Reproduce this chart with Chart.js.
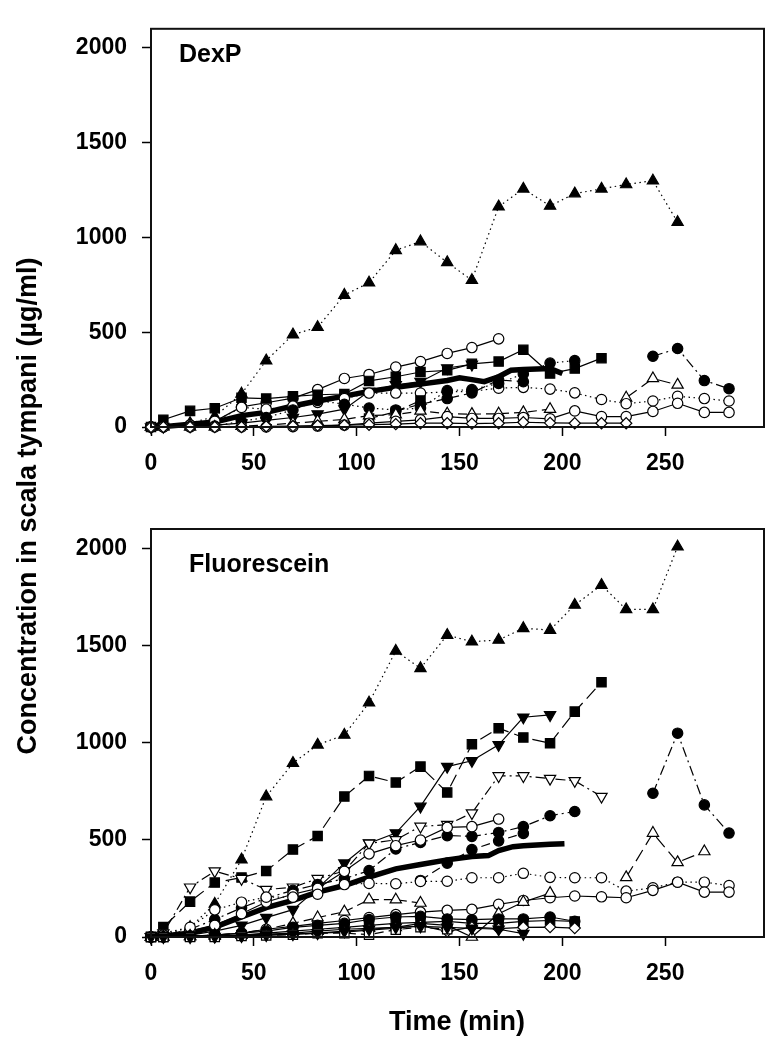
<!DOCTYPE html>
<html><head><meta charset="utf-8">
<script src="https://cdn.jsdelivr.net/npm/chart.js@4.4.0/dist/chart.umd.min.js"></script>
<style>
html,body{margin:0;padding:0;background:#fff;}
#wrap{position:relative;width:784px;height:1046px;background:#fff;}
canvas{position:absolute;left:0;top:0;}
</style></head><body>
<div id="wrap"><canvas id="c1" width="784" height="1046"></canvas><canvas id="c2" width="784" height="1046"></canvas></div>
<script>
// ---------- DATA ----------
const T = [0,6,19,31,44,56,69,81,94,106,119,131,144,156,169,181,194,206,219,231,244,256,269,281];
const xTicks = [0,50,100,150,200,250];
const yTicks = [0,500,1000,1500,2000];
const panelTitles = ['DexP','Fluorescein'];
const xTitle = 'Time (min)';
const yTitle = 'Concentration in scala tympani (µg/ml)';

// DexP panel
const dexTriUp        = [0,5,20,55,175,350,487,526,696,761,932,978,868,774,1162,1256,1166,1231,1256,1279,1299,1080];
const dexCircOpenSolid= [0,3,10,30,106,128,152,197,256,277,316,345,388,419,465];
const dexSqFilled     = [0,38,85,99,154,150,162,170,174,243,265,290,299,333,345,407,282,308,363];
const dexSqFilled2    = [null,null,null,null,null,null,null,null,null,45,80,140];
const dexTriDown      = [0,2,5,10,20,35,50,68,94,188,222,239,311,330];
const dexCircOpenDot  = [0,2,10,30,103,94,110,130,150,179,179,179,185,188,205,209,200,180,145,123,137,162,150,137];
const dexCircOpenLow  = [0,0,0,0,0,0,2,5,10,20,30,38,55,45,45,50,43,85,55,55,82,125,77,77];
const dexDiamond      = [0,0,0,0,0,3,5,8,10,12,15,20,20,18,20,25,22,20,20,20];
const dexTriOpen      = [0,0,0,0,5,10,20,30,40,60,65,85,70,68,70,77,94];
const dexCircFilledDot= [0,0,2,5,30,50,90,140,120,100,90,100,192,197,230,280,337,350];
const dexCircFilledDash=[null,null,null,null,null,null,null,null,null,null,85,120,150,180,248,239];
const dexLateCirc     = [null,null,null,null,null,null,null,null,null,null,null,null,null,null,null,null,null,null,null,null,373,414,245,202];
const dexLateTri      = [null,null,null,null,null,null,null,null,null,null,null,null,null,null,null,null,null,null,null,154,256,222];
const dexMeanT        = [0,6,19,31,44,56,69,81,94,106,119,131,144,150,156,162,169,175,181,194,200];
const dexMeanV        = [0,2,14,26,60,77,111,137,163,188,209,226,245,260,250,239,265,299,303,308,282];

// Fluorescein panel
const fluTriUp        = [0,20,50,170,398,723,895,989,1040,1206,1472,1383,1554,1520,1529,1589,1580,1709,1811,1686,1686,2009];
const fluSqFilled     = [0,51,182,280,306,340,450,520,723,829,795,877,744,992,1075,1027,997,1160,1311];
const fluTriDown      = [0,5,10,30,60,100,141,250,380,483,535,672,877,907,989,1131,1143];
const fluTriDownOpen  = [0,20,256,339,300,244,256,300,340,482,500,569,578,638,829,829,815,804,723];
const fluCircFilledA  = [0,5,40,90,150,200,240,270,300,342,453,487,522,518,538,568,624,646];
const fluCircFilledB  = [null,null,null,null,null,null,null,null,null,null,null,291,380,450,495,533];
const fluLateCirc     = [null,null,null,null,null,null,null,null,null,null,null,null,null,null,null,null,null,null,null,null,740,1049,680,535];
const fluLateTri      = [null,null,null,null,null,null,null,null,null,null,null,null,null,null,null,null,null,null,null,307,535,384,440];
const fluCircOpenDot  = [0,10,50,140,179,205,205,220,270,276,274,286,287,305,305,328,307,305,305,236,253,282,282,265];
const fluCircOpenLow  = [0,0,5,10,20,40,55,70,85,100,115,128,137,142,168,188,202,211,207,202,240,282,231,231];
const fluCircOpenMid  = [0,10,30,60,120,180,220,250,338,428,470,499,564,568,607];
const fluTriOpenMid   = [0,0,5,10,20,40,70,100,130,192,192,175];
const fluTriOpenLow   = [0,0,2,5,10,15,20,30,40,45,50,70,60,0,120,180,226];
const fluCircFilledLow= [0,0,5,10,20,30,50,60,70,90,103,106,93,89,93,93,103,81];
const fluDiamond      = [0,0,0,0,5,10,15,20,25,35,45,58,29,51,43,50,51,46];
const fluSqOpen       = [0,0,0,0,5,8,12,20,20,12,38,50,40];
const fluSqFilledLow  = [0,0,3,5,10,20,30,40,50,60,70,75,80,70,70,80,85,80];
const fluTriDownLow   = [0,0,0,2,5,10,15,20,30,40,50,55,50,45,40,17];
const fluMeanT        = [0,6,19,31,44,56,69,81,94,106,119,131,144,156,164,169,176,181,194,201];
const fluMeanV        = [0,5,20,51,103,151,188,231,265,308,351,373,397,414,419,445,465,470,477,480];

// ---------- STYLES ----------
const FONT = '"Liberation Sans", Arial, Helvetica, sans-serif';
const DASH = {solid:[], dot:[1.5,3.5], dash:[9,5], ldash:[13,6], dashdot:[10,4,2,4]};
const MK = {
  triF:  {pointStyle:'triangle', r:6.5, bg:'#000', rot:0},
  triO:  {pointStyle:'triangle', r:6.5, bg:'#fff', rot:0},
  tdF:   {pointStyle:'triangle', r:6.5, bg:'#000', rot:180},
  tdO:   {pointStyle:'triangle', r:6.5, bg:'#fff', rot:180},
  cirF:  {pointStyle:'circle', r:5.2, bg:'#000', rot:0},
  cirO:  {pointStyle:'circle', r:5.2, bg:'#fff', rot:0},
  sqF:   {pointStyle:'rect', r:6.6, bg:'#000', rot:0},
  sqO:   {pointStyle:'rect', r:6.6, bg:'#fff', rot:0},
  diaO:  {pointStyle:'rectRot', r:5.6, bg:'#fff', rot:0},
  none:  {pointStyle:'circle', r:0, bg:'#000', rot:0}
};

function series(xs, ys, mk, dash, width){
  const data = [];
  ys.forEach((v,i)=>{ if(v!==null && v!==undefined) data.push({x:xs[i], y:v}); });
  const m = MK[mk];
  return {
    data, borderColor:'#000', borderWidth: width||1.2, borderDash: DASH[dash],
    pointStyle:m.pointStyle, pointRadius:m.r, pointHoverRadius:m.r,
    pointBackgroundColor:m.bg, pointBorderColor:'#000', pointBorderWidth:1.2,
    pointRotation:m.rot, fill:false, tension:0, clip:false, spanGaps:false
  };
}

const dexSets = [
  series(T, dexDiamond, 'diaO', 'solid'),
  series(T, dexCircOpenLow, 'cirO', 'solid'),
  series(T, dexTriOpen, 'triO', 'dash'),
  series(T, dexCircFilledDot, 'cirF', 'dot'),
  series(T, dexCircFilledDash, 'cirF', 'dash'),
  series(T, dexSqFilled2, 'sqF', 'dash'),
  series(T, dexCircOpenDot, 'cirO', 'dot'),
  series(T, dexTriDown, 'tdF', 'solid'),
  series(T, dexSqFilled, 'sqF', 'solid'),
  series(T, dexCircOpenSolid, 'cirO', 'solid'),
  series(T, dexLateTri, 'triO', 'ldash'),
  series(T, dexLateCirc, 'cirF', 'dashdot'),
  series(dexMeanT, dexMeanV, 'none', 'solid', 5.5),
  series(T, dexTriUp, 'triF', 'dot')
];

const fluSets = [
  series(T, fluTriDownLow, 'tdF', 'solid'),
  series(T, fluSqOpen, 'sqO', 'dash'),
  series(T, fluDiamond, 'diaO', 'solid'),
  series(T, fluSqFilledLow, 'sqF', 'solid'),
  series(T, fluCircFilledLow, 'cirF', 'solid'),
  series(T, fluTriOpenLow, 'triO', 'solid'),
  series(T, fluTriOpenMid, 'triO', 'dash'),
  series(T, fluCircOpenLow, 'cirO', 'solid'),
  series(T, fluCircOpenDot, 'cirO', 'dot'),
  series(T, fluCircOpenMid, 'cirO', 'solid'),
  series(T, fluCircFilledB, 'cirF', 'dash'),
  series(T, fluCircFilledA, 'cirF', 'dashdot'),
  series(T, fluTriDownOpen, 'tdO', 'dashdot'),
  series(T, fluTriDown, 'tdF', 'solid'),
  series(T, fluSqFilled, 'sqF', 'ldash'),
  series(T, fluLateTri, 'triO', 'ldash'),
  series(T, fluLateCirc, 'cirF', 'dashdot'),
  series(fluMeanT, fluMeanV, 'none', 'solid', 5.5),
  series(T, fluTriUp, 'triF', 'dot')
];

const framePlugin = {
  id:'frame',
  afterDatasetsDraw(chart, args, o){
    const {ctx, chartArea:a} = chart;
    ctx.save();
    ctx.strokeStyle = '#111'; ctx.lineWidth = 2;
    ctx.strokeRect(a.left, a.top, a.right-a.left, a.bottom-a.top);
    ctx.fillStyle = '#000';
    ctx.font = 'bold 25px ' + FONT;
    ctx.textAlign = 'left'; ctx.textBaseline = 'alphabetic';
    ctx.fillText(o.label, o.lx, o.ly);
    if (o.xt) {
      ctx.font = 'bold 27px ' + FONT;
      ctx.textAlign = 'center'; ctx.textBaseline = 'middle';
      ctx.fillText(o.xt, o.xtx, o.xty);
    }
    if (o.yt) {
      ctx.font = 'bold 27px ' + FONT;
      ctx.translate(o.ytx, o.yty); ctx.rotate(-Math.PI/2);
      ctx.textAlign = 'center'; ctx.textBaseline = 'middle';
      ctx.fillText(o.yt, 0, 0);
    }
    ctx.restore();
  }
};

const tickFmt = v => String(v);

function makeChart(id, sets, pad, xH, frameOpts){
  return new Chart(document.getElementById(id), {
    type:'line',
    data:{datasets:sets},
    plugins:[framePlugin],
    options:{
      responsive:false, animation:false, devicePixelRatio:1,
      layout:{padding:pad},
      plugins:{legend:{display:false}, tooltip:{enabled:false}, frame:frameOpts},
      scales:{
        x:{type:'linear', min:0, max:298,
           afterBuildTicks:s=>{ s.ticks = xTicks.map(v=>({value:v})); },
           afterFit:s=>{ s.height = xH; },
           grid:{display:true, drawOnChartArea:false, drawTicks:true, tickLength:9, tickColor:'#000', tickWidth:1.5},
           border:{display:false},
           ticks:{padding:14, color:'#000', callback:tickFmt, font:{family:FONT, size:23, weight:'bold'}, maxRotation:0, autoSkip:false}},
        y:{type:'linear', min:0, max:2100,
           afterBuildTicks:s=>{ s.ticks = yTicks.map(v=>({value:v})); },
           afterFit:s=>{ s.width = 151; },
           grid:{display:true, drawOnChartArea:false, drawTicks:true, tickLength:9, tickColor:'#000', tickWidth:1.5},
           border:{display:false},
           ticks:{padding:15, color:'#000', callback:tickFmt, font:{family:FONT, size:23, weight:'bold'}, autoSkip:false}}
      }
    }
  });
}

Chart.defaults.font.family = FONT;
makeChart('c1', dexSets, {top:17, right:20, left:0, bottom:566}, 53,
  {label:panelTitles[0], lx:179, ly:62});
makeChart('c2', fluSets, {top:529, right:20, left:0, bottom:0}, 109,
  {label:panelTitles[1], lx:189, ly:572, xt:xTitle, xtx:457, xty:1023, yt:yTitle, ytx:29, yty:506});
</script>
</body></html>
